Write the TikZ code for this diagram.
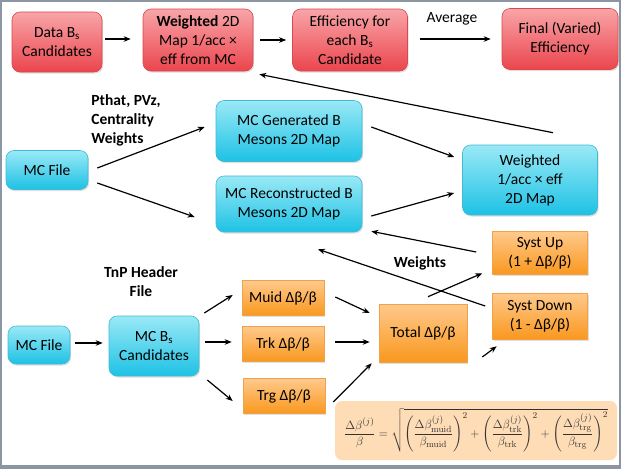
\documentclass[tikz,border=0pt]{standalone}
\usepackage{amsmath}
\usepackage[no-math]{fontspec}
\setmainfont{Carlito}
\usetikzlibrary{arrows.meta,calc,shadows}
\definecolor{frame}{HTML}{8C96A2}
\definecolor{redtop}{HTML}{F8A5A8}
\definecolor{redbot}{HTML}{EB454D}
\definecolor{redline}{HTML}{D8484E}
\definecolor{cyantop}{HTML}{9AE9F6}
\definecolor{cyanbot}{HTML}{1DC2E5}
\definecolor{cyanline}{HTML}{44B9D3}
\definecolor{ortop}{HTML}{FFC98C}
\definecolor{orbot}{HTML}{F9981E}
\definecolor{orline}{HTML}{F1A149}
\definecolor{peach}{HTML}{FDDCB6}
\tikzset{
  box/.style={align=center, inner sep=2pt, font=\fontsize{15.5}{19}\selectfont,
    drop shadow={opacity=0.25, shadow xshift=1.2pt, shadow yshift=-1.5pt}},
  redbox/.style={box, rounded corners=8pt, top color=redtop, bottom color=redbot, draw=redline, line width=0.6pt},
  cyanbox/.style={box, rounded corners=8pt, top color=cyantop, bottom color=cyanbot, draw=cyanline, line width=0.6pt},
  orbox/.style={box, top color=ortop, bottom color=orbot, draw=orline, line width=0.6pt},
  lbl/.style={align=left, font=\fontsize{15.5}{19}\selectfont},
  blbl/.style={lbl, font=\fontsize{15.5}{19}\selectfont\bfseries},
  arr/.style={-{Stealth[length=7pt,width=5.5pt]}, line width=1.2pt, black},
}
\begin{document}
\begin{tikzpicture}[x=1pt,y=-1pt]
% frame
\fill[frame] (0,0) rectangle (621,469);
\fill[white] (2,1.5) rectangle (619,465);
\useasboundingbox (0,0) rectangle (621,469);

% top row
\node[redbox, minimum width=90pt, minimum height=60pt] (data) at (57,42) {Data B$_{\text{s}}$\\Candidates};
\node[redbox, minimum width=110pt, minimum height=62pt] (w2d) at (198,40) {\textbf{Weighted} 2D\\Map 1/acc ×\\eff from MC};
\node[redbox, minimum width=115pt, minimum height=62pt] (eff) at (350,40) {Efficiency for\\each B$_{\text{s}}$\\Candidate};
\node[redbox, minimum width=116pt, minimum height=61pt] (final) at (560,39) {Final (Varied)\\Efficiency};
\node[lbl] (avg) at (452,19) {Average};

% middle
\node[blbl] (pthat) at (126,120) {Pthat, PVz,\\Centrality\\Weights};
\node[cyanbox, minimum width=82pt, minimum height=39pt] (mc1) at (47,170) {MC File};
\node[cyanbox, minimum width=146pt, minimum height=61pt] (gen) at (289,131) {MC Generated B\\Mesons 2D Map};
\node[cyanbox, minimum width=146pt, minimum height=56pt] (reco) at (289,204) {MC Reconstructed B\\Mesons 2D Map};
\node[cyanbox, minimum width=135pt, minimum height=70pt] (wmap) at (530,180) {Weighted\\1/acc × eff\\2D Map};

% lower
\node[orbox, minimum width=95pt, minimum height=43pt] (systup) at (540,253) {Syst Up\\(1 + Δβ/β)};
\node[orbox, minimum width=95pt, minimum height=46pt] (systdn) at (540,316) {Syst Down\\(1 - Δβ/β)};
\node[blbl] (weights) at (420,263) {Weights};
\node[blbl, align=center] (tnp) at (141,282) {TnP Header\\File};
\node[orbox, minimum width=82pt, minimum height=35pt] (muid) at (283,298) {Muid Δβ/β};
\node[orbox, minimum width=82pt, minimum height=35pt] (trk) at (283,344) {Trk Δβ/β};
\node[orbox, minimum width=82pt, minimum height=35pt] (trg) at (284,396) {Trg Δβ/β};
\node[orbox, minimum width=88pt, minimum height=58pt] (total) at (423,333) {Total Δβ/β};
\node[cyanbox, minimum width=62pt, minimum height=38pt] (mc2) at (39,345) {MC File};
\node[cyanbox, minimum width=90pt, minimum height=60pt] (mcbs) at (154,346) {MC B$_{\text{s}}$\\Candidates};

% formula
\node[fill=peach, rounded corners=7pt, minimum width=282pt, minimum height=59pt, inner sep=0pt, text=black!80] (formula) at (476,430.5)
  {\fontsize{12.3}{14}\selectfont $\displaystyle \frac{\Delta\beta^{(j)}}{\beta} = \sqrt{\left(\frac{\Delta\beta^{(j)}_{\mathrm{muid}}}{\beta_{\mathrm{muid}}}\right)^{2} + \left(\frac{\Delta\beta^{(j)}_{\mathrm{trk}}}{\beta_{\mathrm{trk}}}\right)^{2} + \left(\frac{\Delta\beta^{(j)}_{\mathrm{trg}}}{\beta_{\mathrm{trg}}}\right)^{2}}$};

% arrows
\draw[arr] ($(data.east)+(3,-3)$) -- ($(w2d.west)+(-12,-1)$);
\draw[arr] ($(w2d.east)+(7,0)$) -- ($(eff.west)+(-6,0)$);
\draw[arr] ($(eff.east)+(12,-1)$) -- ($(final.west)+(-11,0)$);
\draw[arr] ($(wmap.north)+(23,-12)$) -- ($(w2d.south east)+(6,3)$);
\draw[arr] ($(mc1.east)+(9,-2)$) -- ($(gen.west)+(-11,-4)$);
\draw[arr] ($(mc1.east)+(9,13)$) -- ($(reco.west)+(-21,13)$);
\draw[arr] ($(gen.east)+(9,-4)$) -- ($(wmap.west)+(-8,-23)$);
\draw[arr] ($(reco.east)+(9,12)$) -- ($(wmap.west)+(-8,13)$);
\draw[arr] ($(systup.west)+(-16,-1)$) -- ($(reco.south east)+(9,-1)$);
\draw[arr] ($(systdn.west)+(-7,-10)$) -- ($(reco.south)+(29,17)$);
\draw[arr] ($(mc2.east)+(5,-2)$) -- ($(mcbs.west)+(-6,-3)$);
\draw[arr] ($(mcbs.east)+(5,-33)$) -- ($(muid.west)+(-9,-3)$);
\draw[arr] ($(mcbs.east)+(6,-4)$) -- ($(trk.west)+(-10,-2)$);
\draw[arr] ($(mcbs.east)+(8,34)$) -- ($(trg.west)+(-10,5)$);
\draw[arr] ($(muid.east)+(11,-1)$) -- ($(total.west)+(-9,-20)$);
\draw[arr] ($(trk.east)+(11,-2)$) -- ($(total.west)+(-9,9)$);
\draw[arr] ($(trg.east)+(8,6)$) -- ($(total.south west)+(-7,1)$);
\draw[arr] ($(total.north)+(5,-7)$) -- ($(systup.south west)+(-10,-1.5)$);
\draw[arr] ($(total.east)+(15,24)$) -- ($(systdn.south west)+(4.5,7)$);
\end{tikzpicture}
\end{document}
